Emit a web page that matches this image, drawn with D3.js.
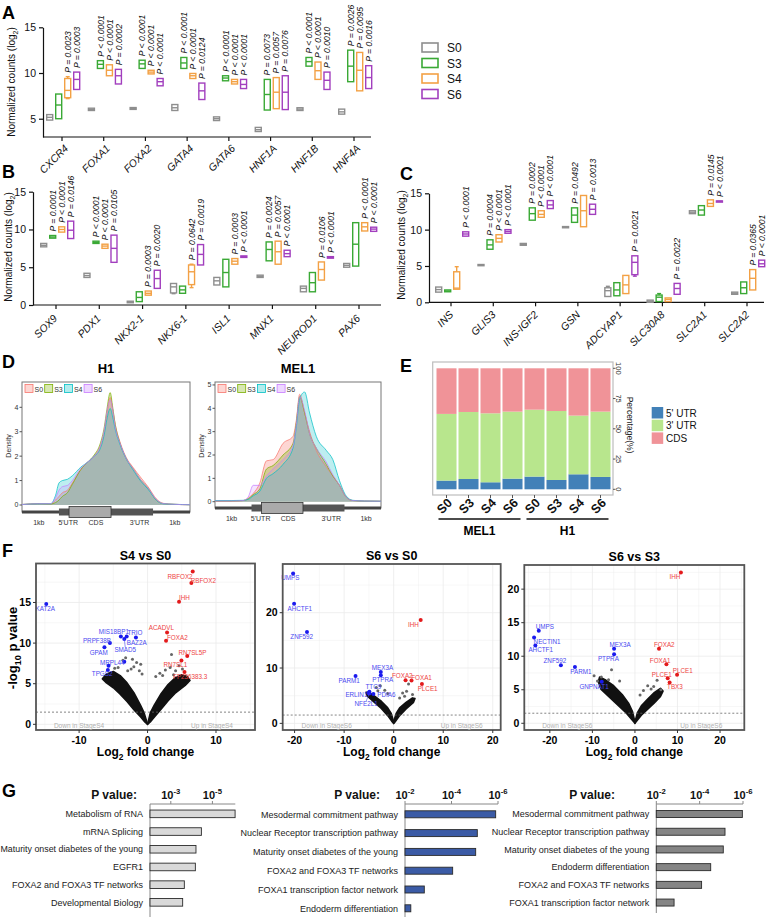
<!DOCTYPE html>
<html><head><meta charset="utf-8">
<script src="https://cdn.jsdelivr.net/npm/d3@7"></script>
<style>
body{margin:0;background:#fff}
svg{display:block}
text{font-family:"Liberation Sans",Arial,Helvetica,sans-serif}
</style>
</head><body>
<svg id="chart" width="767" height="921"></svg>
<script>
// ================= DATA =================
const stages = ["S0","S3","S4","S6"];
const stageColors = ["#8e8e8e","#3aa935","#f3a145","#a23fbe"];

// box values per gene per stage: [low whisker, q1, median, q3, high whisker] (log2 counts)
const genesA = ["CXCR4","FOXA1","FOXA2","GATA4","GATA6","HNF1A","HNF1B","HNF4A"];
const boxesA = [
 [[4.85,4.85,5.15,5.45,5.45],[5.0,5.0,6.5,7.7,7.7],[7.2,7.3,8.1,9.4,9.6],[8.2,8.2,9.3,10.1,10.1]],
 [[5.9,5.9,6.0,6.15,6.15],[10.5,10.5,10.95,11.35,11.35],[9.7,9.7,10.3,10.9,10.9],[8.8,8.8,9.7,10.4,10.4]],
 [[6.02,6.02,6.12,6.22,6.22],[10.5,10.5,11.0,11.4,11.4],[9.9,9.9,10.1,10.3,10.3],[8.6,8.6,9.05,9.4,9.4]],
 [[5.9,5.9,6.2,6.55,6.55],[10.5,10.5,11.1,11.7,11.7],[9.4,9.4,9.7,9.95,9.95],[7.1,7.1,8.05,8.9,8.9]],
 [[4.8,4.8,5.0,5.2,5.2],[9.15,9.15,9.45,9.7,9.7],[8.8,8.8,9.05,9.3,9.3],[8.3,8.3,8.75,9.3,9.3]],
 [[3.6,3.6,3.8,4.05,4.05],[5.95,5.95,7.65,9.3,9.3],[6.1,6.1,7.9,9.5,9.5],[6.0,6.0,7.9,9.7,9.7]],
 [[5.9,5.9,6.05,6.2,6.2],[10.75,10.75,11.25,11.7,11.7],[9.3,9.3,10.25,11.2,11.2],[8.2,8.2,9.2,10.1,10.1]],
 [[5.5,5.5,5.75,6.05,6.05],[9.05,9.05,10.75,12.5,12.5],[8.05,8.05,10.3,12.25,12.25],[8.3,8.3,9.5,10.8,10.8]]
];
const pvalsA = [
 ["","","P = 0.0023","P = 0.0003"],
 ["","P < 0.0001","P < 0.0001","P = 0.0002"],
 ["","P < 0.0001","P < 0.0001","P < 0.0001"],
 ["","P < 0.0001","P < 0.0001","P = 0.0124"],
 ["","P < 0.0001","P < 0.0001","P < 0.0001"],
 ["","P = 0.0073","P = 0.0057","P = 0.0076"],
 ["","P < 0.0001","P < 0.0001","P = 0.0010"],
 ["","P = 0.0026","P = 0.0095","P = 0.0016"]
];

const genesB = ["SOX9","PDX1","NKX2-1","NKX6-1","ISL1","MNX1","NEUROD1","PAX6"];
const boxesB = [
 [[7.7,7.7,7.9,8.15,8.15],[8.85,8.85,9.0,9.2,9.2],[9.65,9.65,10.0,10.35,10.35],[8.8,8.8,9.9,11.1,11.1]],
 [[3.65,3.65,3.9,4.2,4.2],[8.15,8.15,8.3,8.45,8.45],[7.5,7.5,7.8,8.05,8.05],[5.65,5.65,7.5,9.25,9.25]],
 [[0.3,0.3,0.4,0.5,0.5],[0.45,0.45,1.0,1.75,1.75],[1.3,1.3,1.55,1.85,1.85],[2.2,2.2,3.5,4.6,4.6]],
 [[1.5,1.6,2.4,2.85,2.85],[1.55,1.55,2.0,2.5,2.5],[2.3,2.7,4.4,5.3,5.4],[5.3,5.3,6.7,8.0,8.0]],
 [[2.65,2.65,3.2,3.65,3.65],[2.4,2.4,4.3,6.05,6.05],[5.4,5.4,5.8,6.15,6.15],[6.3,6.3,6.4,6.5,6.5]],
 [[3.65,3.65,3.8,3.95,3.95],[5.85,5.85,7.35,8.35,8.35],[5.4,5.4,7.05,8.45,8.45],[6.4,6.4,6.8,7.25,7.25]],
 [[1.75,1.75,2.2,2.5,2.5],[1.75,1.75,2.95,4.3,4.3],[3.3,3.3,4.7,5.7,5.7],[6.2,6.2,6.3,6.4,6.4]],
 [[5.0,5.0,5.25,5.5,5.5],[5.15,5.15,8.05,10.9,10.9],[9.8,9.8,10.35,10.9,10.9],[9.75,9.75,10.05,10.3,10.3]]
];
const pvalsB = [
 ["","P = 0.0001","P < 0.0001","P = 0.0146"],
 ["","P < 0.0001","P < 0.0001","P = 0.0105"],
 ["","","P = 0.0003","P = 0.0020"],
 ["","","P = 0.0642","P = 0.0019"],
 ["","","P = 0.0003","P < 0.0001"],
 ["","P = 0.0024","P = 0.0057","P < 0.0001"],
 ["","","P = 0.0106","P < 0.0001"],
 ["","","P < 0.0001","P < 0.0001"]
];

const genesC = ["INS","GLIS3","INS-IGF2","GSN","ADCYAP1","SLC30A8","SLC2A1","SLC2A2"];
const boxesC = [
 [[1.4,1.4,1.75,2.1,2.1],[1.45,1.45,1.55,1.7,1.7],[1.8,1.8,1.95,4.2,4.9],[9.1,9.1,9.4,9.7,9.7]],
 [[5.05,5.05,5.12,5.2,5.2],[7.3,7.3,7.9,8.6,8.6],[8.3,8.3,8.8,9.3,9.3],[9.5,9.5,9.75,10.0,10.0]],
 [[7.85,7.85,7.95,8.1,8.1],[11.3,11.3,12.2,13.0,13.0],[11.7,11.7,12.1,12.6,12.6],[12.9,12.9,13.4,14.0,14.0]],
 [[10.28,10.28,10.35,10.42,10.42],[11.0,11.0,12.0,13.0,13.0],[10.4,10.4,12.6,14.7,14.7],[12.1,12.1,12.8,13.5,13.5]],
 [[0.8,0.8,1.6,2.0,2.2],[0.9,0.9,1.7,2.7,2.7],[1.2,1.2,2.4,3.7,3.7],[3.6,3.8,5.5,6.4,6.4]],
 [[0.0,0.0,0.15,0.3,0.3],[0.1,0.1,0.7,1.0,1.2],[0.1,0.1,0.4,0.6,0.6],[1.1,1.1,1.9,2.6,2.6]],
 [[12.2,12.2,12.4,12.6,12.6],[12.0,12.0,12.7,13.3,13.3],[13.2,13.2,13.6,14.1,14.1],[13.85,13.85,13.9,13.95,13.95]],
 [[1.1,1.1,1.25,1.4,1.4],[1.2,1.2,2.0,2.8,2.8],[1.7,1.7,3.3,4.5,4.5],[4.9,4.9,5.3,5.8,5.8]]
];
const pvalsC = [
 ["","","","P < 0.0001"],
 ["","P = 0.0004","P < 0.0001","P < 0.0001"],
 ["","P = 0.0002","P < 0.0001","P < 0.0001"],
 ["","P = 0.0492","","P = 0.0013"],
 ["","","","P = 0.0021"],
 ["","","","P = 0.0022"],
 ["","","P = 0.0145","P < 0.0001"],
 ["","","P = 0.0365","P < 0.0001"]
];

// Panel D: density along a metagene (position fraction 0..1)
const densColors = ["#F8766D","#7CAE00","#00BFC4","#C77CFF"];
const h1Pos = [0,0.1,0.17,0.2,0.22,0.24,0.27,0.30,0.35,0.39,0.43,0.465,0.49,0.505,0.525,0.54,0.555,0.585,0.62,0.66,0.71,0.75,0.80,0.84,0.9,1.0];
const h1S0 = [0.02,0.06,0.05,0.2,0.35,0.5,0.6,0.9,1.45,1.75,2.0,2.4,3.0,3.7,4.4,3.9,3.3,2.55,1.95,1.55,1.1,0.75,0.25,0.07,0.03,0.01];
const h1S3 = [0.02,0.05,0.04,0.1,0.2,0.35,0.5,0.85,1.45,1.75,2.05,2.5,3.2,3.9,4.6,4.0,3.3,2.5,1.9,1.5,1.0,0.7,0.2,0.06,0.03,0.01];
const h1S4 = [0.02,0.05,0.05,0.4,0.9,1.0,1.05,1.2,1.55,1.75,2.0,2.3,2.9,3.5,3.95,3.6,3.1,2.45,1.9,1.45,0.95,0.65,0.2,0.05,0.03,0.01];
const h1S6 = [0.02,0.05,0.05,0.3,0.6,0.75,0.8,1.0,1.5,1.75,2.0,2.4,3.1,3.8,4.3,3.9,3.2,2.5,1.9,1.5,1.0,0.7,0.22,0.06,0.03,0.01];
const melPos = [0,0.1,0.17,0.2,0.23,0.27,0.31,0.35,0.41,0.47,0.49,0.51,0.54,0.57,0.61,0.67,0.71,0.75,0.79,0.83,0.9,1.0];
const melS0 = [0.03,0.03,0.05,0.15,0.35,0.8,1.75,1.8,2.5,2.8,3.5,4.6,3.8,3.0,2.2,1.5,1.1,0.7,0.2,0.05,0.03,0.02];
const melS3 = [0.03,0.03,0.05,0.12,0.3,0.55,1.4,1.55,2.0,2.5,3.4,4.5,3.8,2.9,2.3,1.6,1.1,0.7,0.2,0.05,0.03,0.02];
const melS4 = [0.05,0.05,0.06,0.1,0.25,0.45,1.0,1.2,1.6,2.3,3.2,4.4,4.7,3.8,2.8,2.2,1.8,0.9,0.25,0.06,0.03,0.02];
const melS6 = [0.03,0.03,0.05,0.2,0.7,0.7,1.1,1.4,1.8,2.4,3.3,4.5,3.9,2.9,2.3,1.7,1.15,0.7,0.2,0.05,0.03,0.02];
const geneModelLabels = ["1kb","5'UTR","CDS","3'UTR","1kb"];

// Panel E: percentage of reads per region
const eSamples = ["S0","S3","S4","S6","S0","S3","S4","S6"];
const eGroups = ["MEL1","H1"];
const eRegions = ["5' UTR","3' UTR","CDS"];
const eColors = ["#4281b8","#b8e68d","#f09398"];
const e5utr = [7.2,8.5,5.8,8.8,10.5,7.7,12.4,10.2];
const e3utr = [55.1,55.4,57.0,55.4,55.3,57.0,48.5,54.0];
const eCds  = [37.7,36.1,37.2,35.8,34.2,35.3,39.1,35.8];

// Panel F: volcano plots  [gene, log2FC, -log10 p, up(1)/down(0)]
const volcTitles = ["S4 vs S0","S6 vs S0","S6 vs S3"];
const volcS4S0 = [
 ["KAT2A",-14.8,14.8,0],["MIS18BP1",-3.9,10.8,0],["BAZ2A",-3.05,10.8,0],["SMAD5",-3.4,10.5,0],["TRIO",-1.7,10.7,0],
 ["PRPF38B",-5.5,10.0,0],["GPAM",-6.3,9.5,0],["MRPL44",-3.4,7.7,0],["",-5.7,7.2,0],["TPGS2",-5.8,6.7,0],
 ["RBFOX2",6.6,18.8,1],["RBFOX2",6.4,17.4,1],["IHH",4.6,15.1,1],["ACADVL",2.85,11.3,1],["FOXA2",2.7,10.3,1],
 ["RN7SL5P",5.8,8.4,1],["RN7SL1",4.95,7.85,1],["FP236383.3",5.4,6.45,1]
];
const volcS6S0 = [
 ["UMPS",-20.3,27.1,0],["AHCTF1",-20.1,21.6,0],["ZNF592",-17.5,16.5,0],["PARM1",-7.7,8.55,0],["MEX3A",-2.6,9.3,0],
 ["PTPRA",-2.6,8.7,0],["TTC9",-4.9,5.7,0],["ERLIN1",-5.1,5.5,0],["NFE2L1",-4.9,5.4,0],["PDIA6",-4.1,5.3,0],
 ["IHH",5.45,18.7,1],["FOXA2",2.4,7.8,1],["FOXA1",3.6,7.75,1],["PLCE1",5.7,7.1,1]
];
const volcS6S3 = [
 ["UMPS",-22.6,13.8,0],["NECTIN1",-23.7,12.8,0],["AHCTF1",-23.4,11.6,0],["ZNF592",-17.4,8.65,0],["PARM1",-14.1,8.4,0],
 ["MEX3A",-4.9,11.1,0],["PTPRA",-4.9,10.3,0],["GNPNAT1",-7.8,6.2,0],
 ["IHH",10.8,22.5,1],["FOXA2",5.65,11.1,1],["FOXA1",7.4,8.8,1],["PLCE1",9.9,7.25,1],["PLCE1",7.7,6.7,1],["TBX3",8.15,6.1,1]
];
// non-significant scattered genes above the dense cloud
const volcOtherS4S0 = [[-1.2,6.6],[-1.6,7.6],[-2.0,7.1],[-2.4,6.8],[-3.2,8.2],[-3.6,7.9],[-2.9,6.6],[-4.3,7.0],[-4.8,6.9],[-1.0,7.4],[-2.2,8.0],[-0.8,6.2],[3.5,8.6],[2.6,6.7],[3.3,7.0],[1.8,6.3],[4.1,6.6],[4.6,7.2],[5.1,6.8],[1.2,5.9],[2.2,6.0],[3.8,6.1]];
const volcOtherS6S0 = [[-2.7,6.8],[-1.8,6.0],[-3.5,6.5],[-1.2,5.4],[3.0,7.1],[2.6,5.8],[1.8,5.5],[3.8,5.2],[2.2,4.9],[1.2,4.6],[-3.2,5.9]];
const volcOtherS6S3 = [[-9.6,7.1],[-7.9,6.9],[-5.5,8.0],[-8.8,6.3],[-3.6,6.3],[-6.2,6.5],[5.2,6.4],[3.8,5.1],[2.0,4.9],[6.1,5.0],[3.0,5.6],[4.4,5.5],[1.2,4.2]];
// outline of the dense cloud of genes (log2FC, -log10 p)
const cloudS4S0 = [
 [[0,0],[-0.5,1.4],[-1,2.3],[-2,3.9],[-3,5.1],[-4,6.0],[-5,6.5],[-6,6.2],[-6.6,5.6],[-6,5.1],[-5,4.5],[-4,3.7],[-3,2.8],[-2,1.8],[-1,0.9],[-0.4,0.3]],
 [[0,0],[0.4,1.4],[1,2.4],[2,3.8],[3,4.9],[4,5.7],[5,6.1],[5.8,5.9],[6.2,5.4],[5.5,4.8],[4,3.8],[3,2.9],[2,1.9],[1,0.9],[0.4,0.3]]
];
const cloudS6S0 = [
 [[0,0.3],[-0.5,1.8],[-1.2,2.8],[-2.5,4.0],[-4,5.0],[-5,5.6],[-5.6,5.6],[-5.3,4.9],[-4,3.9],[-2.5,2.7],[-1.2,1.4],[-0.4,0.4],[0,0]],
 [[0,0.3],[0.5,1.8],[1.2,2.8],[2.5,3.8],[3.8,4.6],[4.3,4.5],[4.0,3.8],[2.5,2.6],[1.2,1.4],[0.4,0.4],[0,0]]
];
const cloudS6S3 = [
 [[0,0.2],[-0.6,1.8],[-1.5,3.0],[-3,4.3],[-5,5.6],[-7,6.5],[-8.3,6.9],[-8.6,6.2],[-8,5.1],[-6,3.9],[-4,2.7],[-2,1.5],[-0.8,0.6],[0,0]],
 [[0,0.2],[0.6,1.6],[1.5,2.6],[3,3.6],[4.6,4.6],[6,5.2],[6.6,4.8],[6,4.0],[4.5,3.0],[3,2.1],[1.5,1.2],[0.6,0.5],[0,0]]
];

// Panel G: pathway enrichment (-log10 P)
const gTermsL = ["Metabolism of RNA","mRNA Splicing","Maturity onset diabetes of the young","EGFR1","FOXA2 and FOXA3 TF networks","Developmental Biology"];
const gValsL  = [6.09,4.47,4.21,4.18,3.65,3.57];
const gTermsM = ["Mesodermal commitment pathway","Nuclear Receptor transcription pathway","Maturity onset diabetes of the young","FOXA2 and FOXA3 TF networks","FOXA1 transcription factor network","Endoderm differentiation"];
const gValsM  = [5.9,5.11,5.04,4.05,2.83,2.25];
const gTermsR = ["Mesodermal commitment pathway","Nuclear Receptor transcription pathway","Maturity onset diabetes of the young","Endoderm differentiation","FOXA2 and FOXA3 TF networks","FOXA1 transcription factor network"];
const gValsR  = [5.97,5.17,5.09,4.51,4.09,2.82];

// ================= DRAWING =================
const svg = d3.select("#chart");
svg.append("rect").attr("width",767).attr("height",921).attr("fill","#fff");

function rich(t, parts, size){
  let shift = 0;
  parts.forEach(([s,k])=>{
    const target = k==="sub" ? size*0.3 : k==="sup" ? -size*0.45 : 0;
    t.append("tspan").text(s).attr("dy", target-shift).attr("font-size", k==="n" ? size : size*0.7);
    shift = target;
  });
}
function panelLetter(l,x,y){
  svg.append("text").attr("x",x).attr("y",y).text(l).attr("font-size",18).attr("font-weight","bold").attr("fill","#000");
}

// ---------- Box panels ----------
function boxPanel(o){
  const g = svg.append("g");
  const y = d3.scaleLinear().domain(o.yDomain).range(o.yRange);
  const x = d3.scalePoint().domain(o.genes).range(o.xRange);
  const off = d3.scalePoint().domain(stages).range([-12.3, 14.7]);
  const ya = g.append("g").attr("transform",`translate(${o.axisX},0)`)
    .call(d3.axisLeft(y).tickValues(o.yTicks).tickSize(4).tickSizeOuter(0).tickPadding(3));
  ya.attr("font-family",null);
  ya.selectAll("text").attr("font-size",10.5).attr("fill","#111");
  ya.select(".domain").attr("stroke","#111").attr("stroke-width",1.2);
  ya.selectAll(".tick line").attr("stroke","#111").attr("stroke-width",1.2);
  const yb = y(o.yDomain[0]);
  g.append("line").attr("x1",o.axisX).attr("x2",o.axisEnd).attr("y1",yb).attr("y2",yb).attr("stroke","#111").attr("stroke-width",1.2);
  g.selectAll(".xt").data(o.genes).join("line")
    .attr("x1",d=>x(d)).attr("x2",d=>x(d)).attr("y1",yb).attr("y2",yb+4).attr("stroke","#111").attr("stroke-width",1.2);
  g.selectAll(".xl").data(o.genes).join("text")
    .attr("transform",d=>`translate(${x(d)+o.labOff[0]},${yb+o.labOff[1]}) rotate(-45)`)
    .attr("text-anchor","end").attr("font-style","italic").attr("font-size",10.5).attr("fill","#111").text(d=>d);
  const t = g.append("text").attr("transform",`translate(${o.titleX},${o.titleY}) rotate(-90)`).attr("text-anchor","middle").attr("fill","#111");
  rich(t,[["Normalized counts (log","n"],["2","sub"],[")","n"]],10);
  const w = 6;
  o.genes.forEach((gene,i)=>{
    stages.forEach((s,j)=>{
      const b = o.boxes[i][j];
      const cx = x(gene)+off(s);
      const col = stageColors[j];
      const bg = g.append("g").attr("stroke",col).attr("stroke-width",1.4).attr("fill","#fff");
      if (b[4]>b[3]) { bg.append("line").attr("x1",cx).attr("x2",cx).attr("y1",y(b[3])).attr("y2",y(b[4]));
        bg.append("line").attr("x1",cx-2).attr("x2",cx+2).attr("y1",y(b[4])).attr("y2",y(b[4])); }
      if (b[0]<b[1]) { bg.append("line").attr("x1",cx).attr("x2",cx).attr("y1",y(b[1])).attr("y2",y(b[0]));
        bg.append("line").attr("x1",cx-2).attr("x2",cx+2).attr("y1",y(b[0])).attr("y2",y(b[0])); }
      const h = Math.max(y(b[1])-y(b[3]),1.2);
      bg.append("rect").attr("x",cx-w/2).attr("y",y(b[3])).attr("width",w).attr("height",h);
      bg.append("line").attr("x1",cx-w/2).attr("x2",cx+w/2).attr("y1",y(b[2])).attr("y2",y(b[2]));
      const p = o.pvals[i][j];
      if (p) {
        g.append("text").attr("transform",`translate(${cx+3.2},${y(b[4])-4}) rotate(-90)`)
          .attr("font-size",8.6).attr("font-style","italic").attr("fill","#111").text(p);
      }
    });
  });
}

boxPanel({genes:genesA,boxes:boxesA,pvals:pvalsA,yDomain:[3,15],yRange:[137,27.3],yTicks:[5,10,15],
  xRange:[62,354],axisX:43,axisEnd:371,labOff:[7,12],titleX:15,titleY:82});
boxPanel({genes:genesB,boxes:boxesB,pvals:pvalsB,yDomain:[0,15],yRange:[305,191.7],yTicks:[0,5,10,15],
  xRange:[56,359],axisX:33,axisEnd:381,labOff:[2,14],titleX:12,titleY:247});
boxPanel({genes:genesC,boxes:boxesC,pvals:pvalsC,yDomain:[0,15],yRange:[302.3,193.3],yTicks:[0,5,10,15],
  xRange:[451,747],axisX:429,axisEnd:764,labOff:[3,13],titleX:405,titleY:245});
panelLetter("A",2,19); panelLetter("B",2,178); panelLetter("C",400,180);

// legend A
const legA = svg.append("g");
stages.forEach((s,i)=>{
  legA.append("rect").attr("x",422).attr("y",43+i*15.5).attr("width",16).attr("height",9)
    .attr("fill","#fff").attr("stroke",stageColors[i]).attr("stroke-width",1.6);
  legA.append("text").attr("x",447).attr("y",52+i*15.5).attr("font-size",12).attr("fill","#111").text(s);
});

// ---------- Panel D ----------
panelLetter("D",2,368);
function densityPanel(o){
  const g = svg.append("g");
  const x = d3.scaleLinear().domain([0,1]).range([o.x0,o.x1]);
  const y = d3.scaleLinear().domain([0,4]).range([o.zeroY,o.fourY]);
  g.append("rect").attr("x",o.x0).attr("y",o.y0).attr("width",o.x1-o.x0).attr("height",o.y1-o.y0)
    .attr("fill","#fff").attr("stroke","#777").attr("stroke-width",1);
  const area = d3.area().x((d,i)=>x(o.pos[i])).y0(y(0)).y1(d=>y(d)).curve(d3.curveMonotoneX);
  const line = d3.line().x((d,i)=>x(o.pos[i])).y(d=>y(d)).curve(d3.curveMonotoneX);
  const op = [0.3,0.3,0.26,0.2];
  o.series.forEach((s,i)=>{
    g.append("path").attr("d",area(s)).attr("fill",densColors[i]).attr("fill-opacity",op[i]);
  });
  o.series.forEach((s,i)=>{
    g.append("path").attr("d",line(s)).attr("fill","none").attr("stroke",densColors[i]).attr("stroke-width",0.8).attr("stroke-opacity",0.9);
  });
  o.ticks.forEach(v=>{
    g.append("line").attr("x1",o.x0-2.5).attr("x2",o.x0).attr("y1",y(v)).attr("y2",y(v)).attr("stroke","#555");
    g.append("text").attr("x",o.x0-3.5).attr("y",y(v)+2.4).attr("text-anchor","end").attr("font-size",7).attr("fill","#333").text(v);
  });
  g.append("text").attr("transform",`translate(${o.x0-11},${446}) rotate(-90)`).attr("text-anchor","middle").attr("font-size",7).attr("fill","#333").text("Density");
  g.append("text").attr("x",(o.x0+o.x1)/2).attr("y",373).attr("text-anchor","middle").attr("font-size",13).attr("font-weight","bold").text(o.title);
  stages.forEach((s,i)=>{
    g.append("rect").attr("x",o.x0+3+i*19.7).attr("y",o.y0+2.5).attr("width",8).attr("height",8)
      .attr("fill",densColors[i]).attr("fill-opacity",0.3).attr("stroke",densColors[i]).attr("stroke-width",0.8);
    g.append("text").attr("x",o.x0+12.5+i*19.7).attr("y",o.y0+9.5).attr("font-size",7).attr("fill","#333").text(s);
  });
  // gene model along bottom
  const gy = o.y1;
  g.append("rect").attr("x",o.x0).attr("y",gy-1.5).attr("width",o.x1-o.x0).attr("height",3).attr("fill","#444");
  g.append("rect").attr("x",x(0.22)).attr("y",gy-3.5).attr("width",x(0.78)-x(0.22)).attr("height",7).attr("fill","#555");
  g.append("rect").attr("x",x(0.28)).attr("y",gy-5.5).attr("width",x(0.53)-x(0.28)).attr("height",11).attr("fill","#aaa").attr("stroke","#333").attr("stroke-width",0.8);
  const lp = [0.1,0.275,0.44,0.70,0.91];
  geneModelLabels.forEach((l,i)=>{
    g.append("text").attr("x",x(lp[i])).attr("y",gy+13).attr("text-anchor","middle").attr("font-size",7).attr("fill","#333").text(l);
  });
}
densityPanel({title:"H1",x0:22,x1:190,y0:382,y1:512,zeroY:505,fourY:407.3,ticks:[0,1,2,3,4],pos:h1Pos,series:[h1S0,h1S3,h1S4,h1S6]});
densityPanel({title:"MEL1",x0:215,x1:381,y0:382,y1:508,zeroY:501.7,fourY:408.3,ticks:[0,1,2,3,4,5],pos:melPos,series:[melS0,melS3,melS4,melS6]});

// ---------- Panel E ----------
panelLetter("E",400,372);
(function(){
  const g = svg.append("g");
  const fx0=432.7, fx1=613, fy0=362, fy1=495;
  g.append("rect").attr("x",fx0).attr("y",fy0).attr("width",fx1-fx0).attr("height",fy1-fy0).attr("fill","#fff").attr("stroke","#bdbdbd").attr("stroke-width",1.2);
  const x = d3.scaleBand().domain(d3.range(8)).range([436.5,610.5]).paddingInner(0.09);
  const y = d3.scaleLinear().domain([0,100]).range([489.3,368.3]);
  const stack = d3.stack().keys([0,1,2]).value((d,k)=>d[k]);
  const rows = e5utr.map((v,i)=>[v,e3utr[i],eCds[i]]);
  const series = stack(rows);
  series.forEach((s,k)=>{
    g.selectAll(null).data(s).join("rect")
      .attr("x",(d,i)=>x(i)).attr("width",x.bandwidth())
      .attr("y",d=>y(d[1])).attr("height",d=>y(d[0])-y(d[1]))
      .attr("fill",eColors[k]);
  });
  [0,25,50,75,100].forEach(v=>{
    g.append("line").attr("x1",fx1).attr("x2",fx1+2.5).attr("y1",y(v)).attr("y2",y(v)).attr("stroke","#555");
    g.append("text").attr("transform",`translate(${fx1+3},${y(v)}) rotate(90)`).attr("text-anchor","middle").attr("font-size",7.5).attr("fill","#333").text(v);
  });
  g.append("text").attr("transform",`translate(${fx1+14},425) rotate(90)`).attr("text-anchor","middle").attr("font-size",8.5).attr("fill","#222").text("Percentage(%)");
  eSamples.forEach((s,i)=>{
    const cx = x(i)+x.bandwidth()/2;
    g.append("line").attr("x1",cx).attr("x2",cx).attr("y1",fy1).attr("y2",fy1+3).attr("stroke","#555");
    g.append("text").attr("transform",`translate(${cx+1},${509}) rotate(-45)`).attr("text-anchor","middle")
      .attr("font-size",12.5).attr("font-weight","bold").attr("fill","#111").text(s);
  });
  eGroups.forEach((gname,k)=>{
    const a = x(k*4)+2, b = x(k*4+3)+x.bandwidth()-2;
    g.append("line").attr("x1",a).attr("x2",b).attr("y1",519).attr("y2",519).attr("stroke","#111").attr("stroke-width",1.3);
    g.append("text").attr("x",(a+b)/2).attr("y",535).attr("text-anchor","middle").attr("font-size",12).attr("font-weight","bold").text(gname);
  });
  eRegions.forEach((r,i)=>{
    g.append("rect").attr("x",651.7).attr("y",407+i*12.7).attr("width",11.5).attr("height",11.5).attr("fill",eColors[i]);
    g.append("text").attr("x",666).attr("y",416.5+i*12.7).attr("font-size",10).attr("fill","#111").text(r);
  });
})();

// ---------- Panel F ----------
panelLetter("F",2,557);
function volcano(o){
  const g = svg.append("g");
  const x = d3.scaleLinear().domain(o.xd).range([o.x0,o.x1]);
  const y = d3.scaleLinear().domain(o.yd).range([o.y1,o.y0]);
  g.append("rect").attr("x",o.x0).attr("y",o.y0).attr("width",o.x1-o.x0).attr("height",o.y1-o.y0).attr("fill","#fff");
  const minorX = d3.range(Math.ceil(o.xd[0]/o.xStep*2)*o.xStep/2, o.xd[1], o.xStep/2);
  const minorY = d3.range(0, o.yd[1], o.yStep/2);
  g.selectAll(null).data(minorX).join("line").attr("x1",d=>x(d)).attr("x2",d=>x(d)).attr("y1",o.y0).attr("y2",o.y1)
    .attr("stroke","#ebebeb").attr("stroke-width",d=>Math.abs(d/o.xStep-Math.round(d/o.xStep))<1e-6?0.8:0.4);
  g.selectAll(null).data(minorY).join("line").attr("y1",d=>y(d)).attr("y2",d=>y(d)).attr("x1",o.x0).attr("x2",o.x1)
    .attr("stroke","#ebebeb").attr("stroke-width",d=>Math.abs(d/o.yStep-Math.round(d/o.yStep))<1e-6?0.8:0.4);
  const cl = d3.line().x(d=>x(d[0])).y(d=>y(d[1])).curve(d3.curveLinearClosed);
  o.cloud.forEach(c=>g.append("path").attr("d",cl(c)).attr("fill","#111").attr("stroke","#111").attr("stroke-width",1.6).attr("stroke-linejoin","round"));
  g.selectAll(null).data(o.other).join("circle").attr("cx",d=>x(d[0])).attr("cy",d=>y(d[1])).attr("r",1.5).attr("fill","#666");
  g.append("line").attr("x1",o.x0).attr("x2",o.x1).attr("y1",y(1.5)).attr("y2",y(1.5)).attr("stroke","#666").attr("stroke-dasharray","2,2").attr("stroke-width",0.8);
  o.genes.forEach((d,i)=>{
    const px = x(d[1]), py = y(d[2]);
    const cp = d[3] ? "#e31a1c" : "#1a1aee";
    const ct = d[3] ? "#ee4444" : "#4a4af0";
    g.append("circle").attr("cx",px).attr("cy",py).attr("r",2).attr("fill",cp);
    if (d[0]) {
      const [dx,dy,ln] = o.offsets[i];
      if (ln) g.append("line").attr("x1",px).attr("y1",py).attr("x2",px+dx).attr("y2",py+dy-2.5).attr("stroke",ct).attr("stroke-width",0.6);
      g.append("text").attr("x",px+dx).attr("y",py+dy+2.2).attr("text-anchor","middle").attr("font-size",6.3).attr("fill",ct).text(d[0]);
    }
  });
  g.append("rect").attr("x",o.x0).attr("y",o.y0).attr("width",o.x1-o.x0).attr("height",o.y1-o.y0).attr("fill","none").attr("stroke","#555").attr("stroke-width",1.8);
  g.append("text").attr("x",o.x0+o.downX).attr("y",o.y1-2.5).attr("font-size",6.5).attr("fill","#b0b0b0").attr("text-anchor","middle").text("Down in "+o.stage);
  g.append("text").attr("x",o.x1-o.upX).attr("y",o.y1-2.5).attr("font-size",6.5).attr("fill","#b0b0b0").attr("text-anchor","middle").text("Up in "+o.stage);
  o.yTicks.forEach(v=>{
    g.append("line").attr("x1",o.x0-3).attr("x2",o.x0).attr("y1",y(v)).attr("y2",y(v)).attr("stroke","#333");
    g.append("text").attr("x",o.x0-5).attr("y",y(v)+3.7).attr("text-anchor","end").attr("font-size",10.5).attr("font-weight","bold").text(v);
  });
  o.xTicks.forEach(v=>{
    g.append("line").attr("x1",x(v)).attr("x2",x(v)).attr("y1",o.y1).attr("y2",o.y1+3).attr("stroke","#333");
    g.append("text").attr("x",x(v)).attr("y",o.y1+14).attr("text-anchor","middle").attr("font-size",10.5).attr("font-weight","bold").text(v);
  });
  g.append("text").attr("x",(o.x0+o.x1)/2).attr("y",o.y0-4).attr("text-anchor","middle").attr("font-size",12.5).attr("font-weight","bold").text(o.title);
  const xl = g.append("text").attr("x",(o.x0+o.x1)/2).attr("y",756).attr("text-anchor","middle").attr("font-weight","bold");
  rich(xl,[["Log","n"],["2","sub"],[" fold change","n"]],12);
}
volcano({title:volcTitles[0],x0:36,x1:255,y0:563.5,y1:730,xd:[-16.3,15.7],yd:[-0.7,19.8],xStep:10,yStep:5,
  xTicks:[-10,0,10],yTicks:[0,5,10,15],genes:volcS4S0,other:volcOtherS4S0,cloud:cloudS4S0,stage:"StageS4",downX:43,upX:43,
  offsets:[[-1,5],[-7,-4.5],[10,6],[1,11,1],[-1,-4.5],[-13,-2.3],[-5.7,5.3],[-12,1],[0,0],[-5.7,4],
           [-12.7,4.7],[12,-1.7],[5.3,-3.7],[-5.7,-4.7],[11.3,-3.3],[5.3,-3.7],[-6,4.7],[5.7,4.7]]});
volcano({title:volcTitles[1],x0:282.7,x1:500.7,y0:564,y1:730,xd:[-22.4,21.6],yd:[-1.2,28.8],xStep:10,yStep:10,
  xTicks:[-20,-10,0,10,20],yTicks:[0,10,20],genes:volcS6S0,other:volcOtherS6S0,cloud:cloudS6S0,stage:"StageS6",downX:44,upX:39,
  offsets:[[-2.7,4.7],[5.7,4.7],[-5.3,4.7],[-6.3,5],[1.7,-4.3],[2,4.7],[4,-5],[-12,2.3],[-3.3,10.3,1],[13,0.7],
           [-7.3,4.7],[-3.3,-4.3],[10,-3],[5.7,4.7]]});
volcano({title:volcTitles[2],x0:524.3,x1:744.3,y0:565,y1:730,xd:[-26,25.7],yd:[-1,23.6],xStep:10,yStep:5,
  xTicks:[-20,-10,0,10,20],yTicks:[0,5,10,15,20],genes:volcS6S3,other:volcOtherS6S3,cloud:cloudS6S3,stage:"StageS6",downX:43,upX:43,
  offsets:[[6,-4],[13,4.3],[5.3,4.7],[-6,-4.3],[6,5.3],[6,-4],[-5.7,4.7],[-7.7,5],
           [-6,4.7],[5.3,-4],[-6.3,-3.7],[5.7,-4],[-6,-4],[5.3,4.7]]});
const ylab = svg.append("text").attr("transform","translate(17,648) rotate(-90)").attr("text-anchor","middle").attr("font-weight","bold");
rich(ylab,[["-log","n"],["10","sub"],[" p value","n"]],13);

// ---------- Panel G ----------
panelLetter("G",2,797);
function barPanel(o){
  const g = svg.append("g");
  const x = d3.scaleLinear().domain([2,o.dMax]).range([o.ax,o.axEnd]);
  const y = d3.scaleBand().domain(o.terms).range([o.yTop,o.yBot]);
  g.append("line").attr("x1",o.ax).attr("x2",o.axEnd).attr("y1",804).attr("y2",804).attr("stroke","#888").attr("stroke-width",1);
  g.append("line").attr("x1",o.ax).attr("x2",o.ax).attr("y1",804).attr("y2",o.axBottom).attr("stroke","#888").attr("stroke-width",1);
  o.ticks.forEach(v=>{
    g.append("line").attr("x1",x(v)).attr("x2",x(v)).attr("y1",801).attr("y2",804).attr("stroke","#888");
    const t = g.append("text").attr("x",x(v)).attr("y",799).attr("text-anchor","middle").attr("font-weight","bold").attr("fill","#111");
    rich(t,[["10","n"],["-"+v,"sup"]],11);
  });
  g.append("text").attr("x",o.pvX).attr("y",799).attr("text-anchor","end").attr("font-size",12).attr("font-weight","bold").attr("fill","#111").text("P value:");
  o.terms.forEach((term,i)=>{
    const cy = y(term)+y.bandwidth()/2;
    g.append("rect").attr("x",o.ax).attr("y",cy-o.bh/2).attr("width",x(o.vals[i])-o.ax).attr("height",o.bh)
      .attr("fill",o.fill).attr("stroke","#2a2a2a").attr("stroke-width",0.9);
    const t = g.append("text").attr("x",o.ax-7).attr("y",cy+3.2).attr("text-anchor","end").attr("font-size",9).attr("fill","#222").text(term);
    const len = t.node().getComputedTextLength();
    if (o.ax - 7 - len < 0.5) {
      t.attr("textLength", o.ax - 7.5).attr("lengthAdjust","spacingAndGlyphs");
    }
  });
}
barPanel({terms:gTermsL,vals:gValsL,ax:150,axEnd:235.3,dMax:6.1,ticks:[3,5],yTop:805,yBot:911.2,axBottom:917,bh:7.6,fill:"#d9d9d9",pvX:137});
barPanel({terms:gTermsM,vals:gValsM,ax:405,axEnd:498,dMax:6,ticks:[2,4,6],yTop:804.9,yBot:917.7,axBottom:917,bh:7,fill:"#3b5ba6",pvX:380});
barPanel({terms:gTermsR,vals:gValsR,ax:656.3,axEnd:743,dMax:6,ticks:[2,4,6],yTop:805.2,yBot:911.4,axBottom:913,bh:7,fill:"#858585",pvX:615});
</script>
</body></html>
